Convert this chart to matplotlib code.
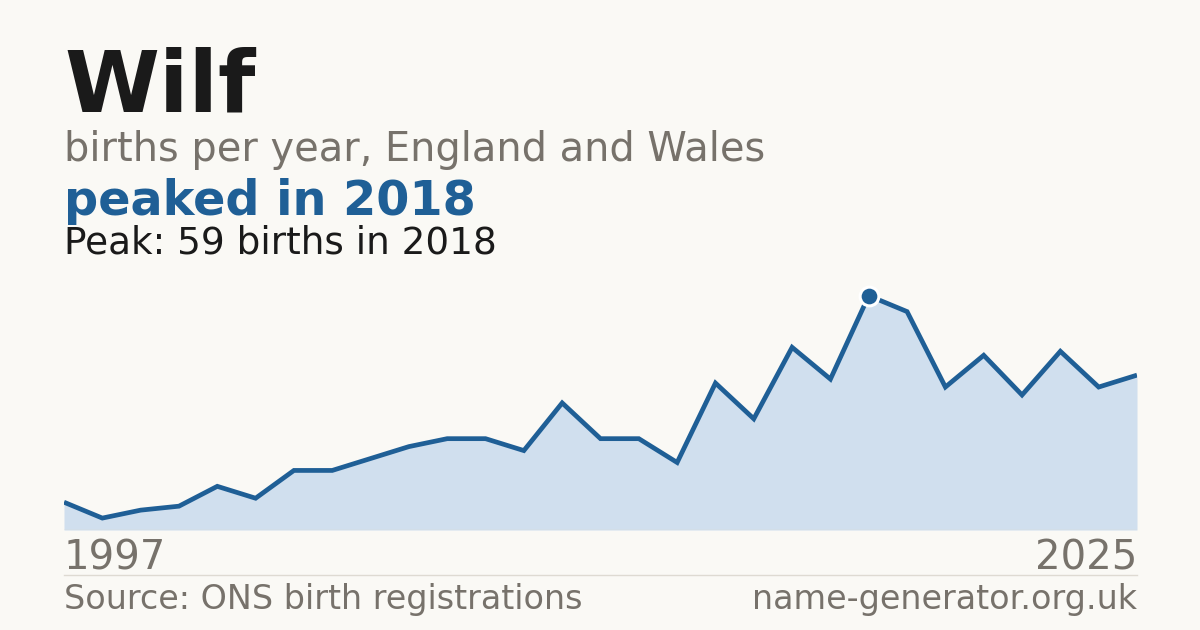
import matplotlib
matplotlib.use("Agg")
import matplotlib.pyplot as plt
from matplotlib.lines import Line2D

# ---- data ----
years = list(range(1997, 2026))
births = [7, 3, 5, 6, 11, 8, 15, 15, 18, 21, 23, 23, 20, 32, 23, 23, 17,
          37, 28, 46, 38, 59, 55, 36, 44, 34, 45, 36, 39]
name = "Wilf"
subtitle = "births per year, England and Wales"
headline = "peaked in 2018"
peak_text = "Peak: 59 births in 2018"
source_text = "Source: ONS birth registrations"
site_text = "name-generator.org.uk"

BG = "#faf9f5"
BLUE = "#1f5f96"
FILL = "#d0dfee"
GRAY = "#77726b"
DARK = "#1a1a1a"
RULE = "#dedad2"

plt.rcParams['font.family'] = ['DejaVu Sans']

W, H = 1200, 630
fig = plt.figure(figsize=(12, 6.3), dpi=100, facecolor=BG)

def fy(px):
    return (H - px) / H

def fx(px):
    return px / W

# axes: x 64..1137, baseline at 530
ymax = 59 * 1.1
ax_h = ymax * 3.971
ax = fig.add_axes([fx(64), fy(530), (1137 - 64) / W, ax_h / H])
ax.set_facecolor("none")
ax.fill_between(years, births, 0, color=FILL, linewidth=0, zorder=1)
ax.plot(years, births, color=BLUE, linewidth=3.4, solid_joinstyle="miter",
        solid_capstyle="butt", zorder=3)
pk = births.index(max(births))
ax.plot([years[pk]], [births[pk]], marker="o", markersize=13.5,
        markerfacecolor=BLUE, markeredgecolor="white", markeredgewidth=2.2,
        zorder=4, clip_on=False)
ax.axhline(0, color=RULE, linewidth=1, zorder=2)
ax.set_xlim(years[0], years[-1])
ax.set_ylim(0, ymax)
ax.axis("off")

# texts
fig.text(fx(64), fy(111.7), name, fontsize=62, fontweight="bold", color=DARK,
         va="baseline", ha="left")
fig.text(fx(64), fy(160.7), subtitle, fontsize=28.7, color=GRAY,
         va="baseline", ha="left")
fig.text(fx(64), fy(215), headline, fontsize=34.4, fontweight="bold", color=BLUE,
         va="baseline", ha="left")
fig.text(fx(64), fy(254), peak_text, fontsize=26.9, color=DARK,
         va="baseline", ha="left")

fig.text(fx(64), fy(570), str(years[0]), fontsize=28.9, color=GRAY,
         va="baseline", ha="left")
fig.text(fx(1137), fy(570), str(years[-1]), fontsize=28.9, color=GRAY,
         va="baseline", ha="right")

fig.add_artist(Line2D([fx(64), fx(1137)], [fy(574.5), fy(574.5)],
                      color=RULE, linewidth=1, transform=fig.transFigure))

fig.text(fx(64), fy(609), source_text, fontsize=24, color=GRAY,
         va="baseline", ha="left")
fig.text(fx(1137), fy(609), site_text, fontsize=24, color=GRAY,
         va="baseline", ha="right")

fig.savefig("out.png", dpi=100, facecolor=BG)
